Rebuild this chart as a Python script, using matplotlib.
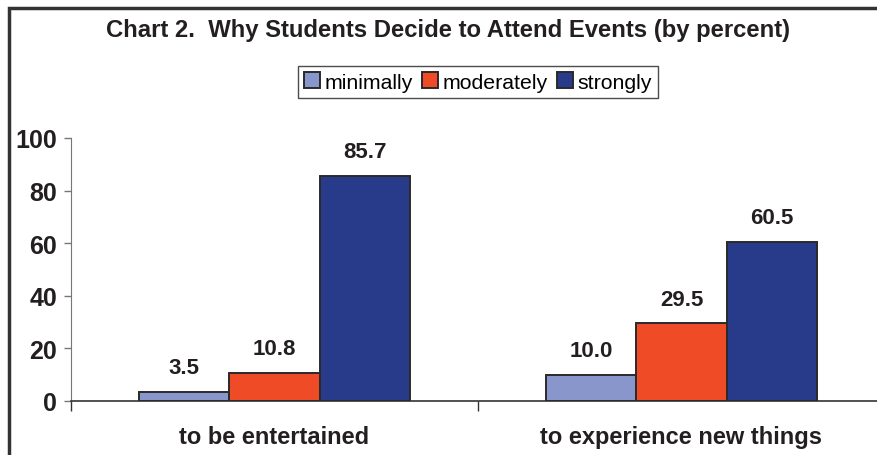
import numpy as np
import matplotlib.pyplot as plt
from matplotlib.patches import Rectangle

plt.rcParams['font.family'] = ['Liberation Sans', 'DejaVu Sans']

categories = ['to be entertained', 'to experience new things']
series = ['minimally', 'moderately', 'strongly']
minimally = [3.5, 10.0]
moderately = [10.8, 29.5]
strongly = [85.7, 60.5]
colors = ['#8896CC', '#F04B27', '#283A8A']

fig = plt.figure(figsize=(8.78, 4.56), dpi=100)
ax = fig.add_axes([71/878, 54/456, (885-71)/878, (402-139)/456])

x = np.arange(len(categories))
w = 0.222
for i, (vals, name, c) in enumerate(zip([minimally, moderately, strongly], series, colors)):
    bars = ax.bar(x + (i-1)*w, vals, w, color=c, edgecolor='#2a2a2a', linewidth=1.4, label=name, zorder=3)
    for b, v in zip(bars, vals):
        ax.annotate(f"{v:.1f}", (b.get_x() + b.get_width()/2, v), xytext=(0, 10),
                    textcoords='offset points', ha='center', va='bottom',
                    fontsize=16, fontweight='bold', color='#231f20')

ax.set_xlim(-0.5, 1.5)
ax.set_ylim(0, 100)
ax.set_yticks([0, 20, 40, 60, 80, 100])
ax.set_xticks([-0.5, 0.5, 1.5])
ax.set_xticklabels([])
ax.set_xticks(x, minor=True)
ax.set_xticklabels(categories, minor=True, fontsize=17, fontweight='bold', color='#231f20')
ax.tick_params(axis='x', which='minor', length=0, pad=17)
ax.tick_params(axis='x', which='major', length=7, width=1, color='#333333', direction='out')
ax.tick_params(axis='y', length=5, width=1, color='#777777', pad=5, labelsize=18, labelcolor='#231f20')
for lab in ax.get_yticklabels():
    lab.set_fontweight('bold')
for s in ['top', 'right']:
    ax.spines[s].set_visible(False)
ax.spines['left'].set_color('#777777')
ax.spines['bottom'].set_color('#333333')
ax.spines['bottom'].set_linewidth(1.2)

fig.text(448/878, 1 - 30/456, 'Chart 2.  Why Students Decide to Attend Events (by percent)',
         ha='center', va='center', fontsize=17.2, fontweight='bold', color='#231f20')

leg = fig.legend(loc='center', bbox_to_anchor=(478/878, 1 - 83/456), ncol=3,
                 frameon=True, fancybox=False, edgecolor='#231f20', fontsize=15.3,
                 handlelength=0.75, handleheight=0.75, handletextpad=0.2, columnspacing=0.45,
                 borderpad=0.3, borderaxespad=0)
leg.get_frame().set_linewidth(1)

fig.patches.append(Rectangle((9/878, -0.2), 1.2, 1 - 9/456 + 0.2, transform=fig.transFigure,
                             fill=False, edgecolor='#333333', linewidth=2.5))

fig.savefig('out.png', dpi=100)
